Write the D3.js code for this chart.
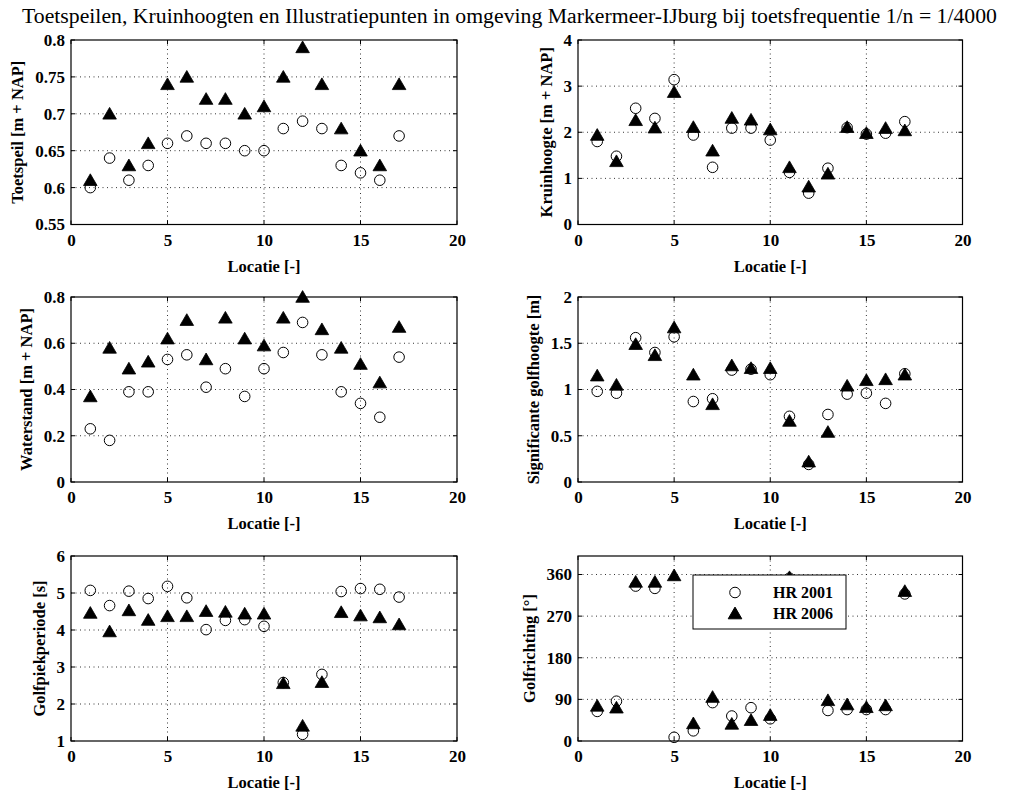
<!DOCTYPE html>
<html>
<head>
<meta charset="utf-8">
<script src="https://cdn.jsdelivr.net/npm/d3@7/dist/d3.min.js"></script>
<style>
  html, body { margin: 0; padding: 0; background: #fff; }
  svg { display: block; }
</style>
</head>
<body>
<svg id="chart" width="1016" height="792"></svg>
<script>
// ---------------- DATA ----------------
const locaties = [1, 2, 3, 4, 5, 6, 7, 8, 9, 10, 11, 12, 13, 14, 15, 16, 17];
const seriesNames = ["HR 2001", "HR 2006"];
const xTicks = [0, 5, 10, 15, 20];

const toetspeil2001 = [0.60, 0.64, 0.61, 0.63, 0.66, 0.67, 0.66, 0.66, 0.65, 0.65, 0.68, 0.69, 0.68, 0.63, 0.62, 0.61, 0.67];
const toetspeil2006 = [0.61, 0.70, 0.63, 0.66, 0.74, 0.75, 0.72, 0.72, 0.70, 0.71, 0.75, 0.79, 0.74, 0.68, 0.65, 0.63, 0.74];

const kruin2001 = [1.80, 1.48, 2.52, 2.30, 3.14, 1.94, 1.24, 2.09, 2.09, 1.83, 1.13, 0.68, 1.22, 2.10, 1.96, 1.98, 2.23];
const kruin2006 = [1.94, 1.37, 2.26, 2.10, 2.87, 2.11, 1.60, 2.31, 2.27, 2.06, 1.24, 0.82, 1.10, 2.11, 1.98, 2.09, 2.04];

const water2001 = [0.23, 0.18, 0.39, 0.39, 0.53, 0.55, 0.41, 0.49, 0.37, 0.49, 0.56, 0.69, 0.55, 0.39, 0.34, 0.28, 0.54];
const water2006 = [0.37, 0.58, 0.49, 0.52, 0.62, 0.70, 0.53, 0.71, 0.62, 0.59, 0.71, 0.80, 0.66, 0.58, 0.51, 0.43, 0.67];

const hs2001 = [0.98, 0.96, 1.56, 1.40, 1.57, 0.87, 0.90, 1.21, 1.22, 1.16, 0.71, 0.19, 0.73, 0.95, 0.96, 0.85, 1.17];
const hs2006 = [1.15, 1.05, 1.49, 1.37, 1.67, 1.16, 0.84, 1.26, 1.23, 1.23, 0.66, 0.22, 0.54, 1.04, 1.10, 1.11, 1.16];

const tp2001 = [5.07, 4.66, 5.05, 4.85, 5.18, 4.87, 4.01, 4.26, 4.28, 4.10, 2.58, 1.18, 2.80, 5.04, 5.12, 5.10, 4.89];
const tp2006 = [4.46, 3.96, 4.53, 4.27, 4.37, 4.37, 4.51, 4.49, 4.44, 4.44, 2.56, 1.41, 2.59, 4.48, 4.39, 4.34, 4.15];

const richting2001 = [64, 86, 335, 330, 8, 22, 83, 54, 72, 48, 352, null, 66, 68, 68, 68, 318];
const richting2006 = [76, 72, 344, 344, 358, 38, 95, 37, 45, 56, 354, null, 88, 79, 73, 77, 324];

const yTicks1 = [0.55, 0.6, 0.65, 0.7, 0.75, 0.8];
const yTicks2 = [0, 1, 2, 3, 4];
const yTicks3 = [0, 0.2, 0.4, 0.6, 0.8];
const yTicks4 = [0, 0.5, 1, 1.5, 2];
const yTicks5 = [1, 2, 3, 4, 5, 6];
const yTicks6 = [0, 90, 180, 270, 360];

const titleText = "Toetspeilen, Kruinhoogten en Illustratiepunten in omgeving Markermeer-IJburg bij toetsfrequentie 1/n = 1/4000";
const xLabel = "Locatie [-]";

const panels = [
  { ylabel: "Toetspeil [m + NAP]", domain: [0.55, 0.8], ticks: yTicks1, s2001: toetspeil2001, s2006: toetspeil2006 },
  { ylabel: "Kruinhoogte [m + NAP]", domain: [0, 4], ticks: yTicks2, s2001: kruin2001, s2006: kruin2006 },
  { ylabel: "Waterstand [m + NAP]", domain: [0, 0.8], ticks: yTicks3, s2001: water2001, s2006: water2006 },
  { ylabel: "Significante golfhoogte [m]", domain: [0, 2], ticks: yTicks4, s2001: hs2001, s2006: hs2006 },
  { ylabel: "Golfpiekperiode [s]", domain: [1, 6], ticks: yTicks5, s2001: tp2001, s2006: tp2006 },
  { ylabel: "Golfrichting [°]", domain: [0, 400], ticks: yTicks6, s2001: richting2001, s2006: richting2006, legend: true }
];

// ---------------- LAYOUT ----------------
const colLeft = [71, 578];
const colRight = [457, 962.5];
const rowTop = [40, 297, 556];
const rowBottom = [224.5, 482, 741];
const serif = "'Liberation Serif', 'Times New Roman', serif";

const svg = d3.select("#chart");

svg.append("text")
  .attr("x", 22).attr("y", 23)
  .attr("text-anchor", "start")
  .attr("textLength", 975)
  .attr("lengthAdjust", "spacingAndGlyphs")
  .style("font-family", serif)
  .style("font-size", "20.5px")
  .text(titleText);

const circlePath = d3.symbol().type(d3.symbolCircle).size(Math.PI * 28)();
const triPath = "M0,-6.4L6.8,5.3L-6.8,5.3Z";

panels.forEach((p, i) => {
  const col = i % 2, row = Math.floor(i / 2);
  const L = colLeft[col], R = colRight[col], T = rowTop[row], B = rowBottom[row];
  const x = d3.scaleLinear().domain([0, 20]).range([L, R]);
  const y = d3.scaleLinear().domain(p.domain).range([B, T]);
  const g = svg.append("g");

  // grid
  g.selectAll(".gx").data(xTicks.filter(t => t > 0 && t < 20)).join("line")
    .attr("x1", d => x(d)).attr("x2", d => x(d)).attr("y1", T).attr("y2", B)
    .attr("stroke", "#000").attr("stroke-width", 0.8).attr("stroke-dasharray", "1,3.5");
  g.selectAll(".gy").data(p.ticks.filter(t => t > p.domain[0] && t < p.domain[1])).join("line")
    .attr("x1", L).attr("x2", R).attr("y1", d => y(d)).attr("y2", d => y(d))
    .attr("stroke", "#000").attr("stroke-width", 0.8).attr("stroke-dasharray", "1,3.5");

  // axes
  const xAxis = d3.axisBottom(x).tickValues(xTicks).tickSize(0).tickPadding(9).tickFormat(d3.format("d"));
  const gx = g.append("g").attr("transform", `translate(0,${B})`).call(xAxis);
  const yAxis = d3.axisLeft(y).tickValues(p.ticks).tickSize(0).tickPadding(6).tickFormat(d => String(+d.toFixed(2)));
  const gy = g.append("g").attr("transform", `translate(${L},0)`).call(yAxis);
  [gx, gy].forEach(a => {
    a.attr("font-family", serif).attr("font-size", 17);
    a.select(".domain").remove();
    a.selectAll("text").style("font-family", serif).style("font-size", "17px")
      .style("font-weight", "bold").attr("fill", "#000");
  });

  // inner ticks
  xTicks.forEach(t => {
    g.append("line").attr("x1", x(t)).attr("x2", x(t)).attr("y1", B).attr("y2", B - 4).attr("stroke", "#000");
    g.append("line").attr("x1", x(t)).attr("x2", x(t)).attr("y1", T).attr("y2", T + 4).attr("stroke", "#000");
  });
  p.ticks.forEach(t => {
    g.append("line").attr("x1", L).attr("x2", L + 4).attr("y1", y(t)).attr("y2", y(t)).attr("stroke", "#000");
    g.append("line").attr("x1", R).attr("x2", R - 4).attr("y1", y(t)).attr("y2", y(t)).attr("stroke", "#000");
  });

  // box
  g.append("rect").attr("x", L).attr("y", T).attr("width", R - L).attr("height", B - T)
    .attr("fill", "none").attr("stroke", "#000").attr("stroke-width", 1.2);

  // labels
  g.append("text").attr("x", (L + R) / 2).attr("y", B + 47)
    .attr("text-anchor", "middle")
    .style("font-family", serif).style("font-size", "16.5px").style("font-weight", "bold")
    .text(xLabel);

  const bb = gy.node().getBBox();
  const lx = L + bb.x - 12;
  g.append("text")
    .attr("transform", `translate(${lx},${(T + B) / 2}) rotate(-90)`)
    .attr("text-anchor", "middle")
    .style("font-family", serif).style("font-size", "16.5px").style("font-weight", "bold")
    .text(p.ylabel);

  // points
  const d01 = locaties.map((l, k) => [l, p.s2001[k]]).filter(d => d[1] != null);
  const d06 = locaties.map((l, k) => [l, p.s2006[k]]).filter(d => d[1] != null);
  g.selectAll(".c").data(d01).join("path")
    .attr("d", circlePath)
    .attr("transform", d => `translate(${x(d[0])},${y(d[1])})`)
    .attr("fill", "none").attr("stroke", "#000").attr("stroke-width", 1);
  g.selectAll(".t").data(d06).join("path")
    .attr("d", triPath)
    .attr("transform", d => `translate(${x(d[0])},${y(d[1])})`)
    .attr("fill", "#000").attr("stroke", "#000").attr("stroke-width", 0.8);

  if (p.legend) {
    const lg = g.append("g").attr("transform", "translate(693,575)");
    lg.append("rect").attr("width", 153).attr("height", 54)
      .attr("fill", "#fff").attr("stroke", "#000").attr("stroke-width", 1);
    const items = [{ name: seriesNames[0], path: circlePath, fill: "none" }, { name: seriesNames[1], path: triPath, fill: "#000" }];
    items.forEach((it, k) => {
      const yy = 17.5 + k * 21;
      lg.append("path").attr("d", it.path).attr("transform", `translate(42,${yy})`)
        .attr("fill", it.fill).attr("stroke", "#000").attr("stroke-width", 1);
      lg.append("text").attr("x", 80).attr("y", yy + 5.5)
        .style("font-family", serif).style("font-size", "16px").style("font-weight", "bold")
        .text(it.name);
    });
  }
});
</script>
</body>
</html>
